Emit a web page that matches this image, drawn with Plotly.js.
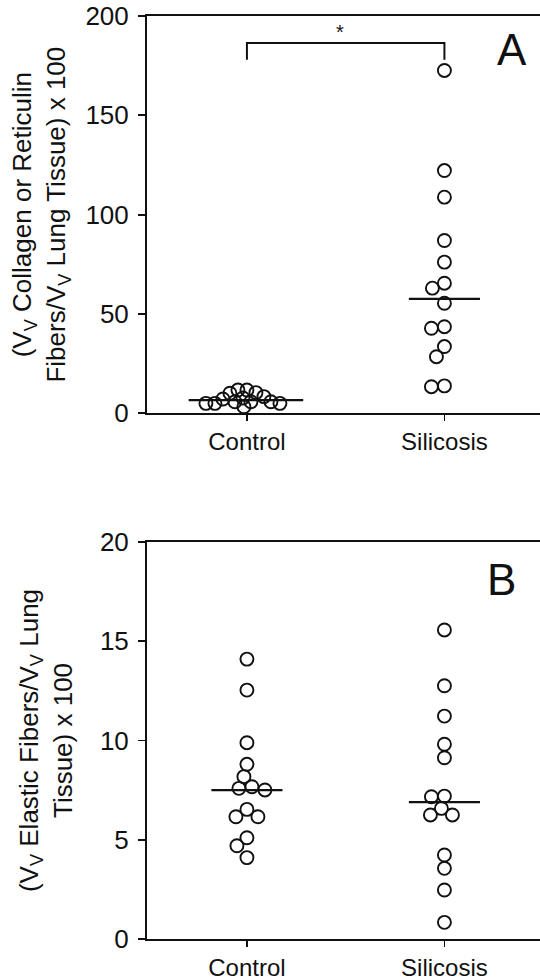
<!DOCTYPE html>
<html>
<head>
<meta charset="utf-8">
<script src="https://cdn.plot.ly/plotly-3.0.1.min.js"></script>
<style>html,body{margin:0;padding:0;background:#fff;}#chart{width:540px;height:980px;}</style>
</head>
<body>
<div id="chart"></div>
<script>
// ---- data ----
const categories = ["Control", "Silicosis"];

// Panel A: (Vv collagen or reticulin fibers / Vv lung tissue) x 100
const collagenControl   = [5.8, 10.1, 5.0, 10.4, 5.0, 11.7, 7.7, 3.3, 5.0, 11.7, 7.2, 5.8, 8.4, 5.8];
const collagenSilicosis = [172.6, 122.2, 108.8, 87.0, 76.1, 65.5, 63.0, 55.4, 43.6, 42.8, 33.6, 28.5, 13.8, 13.4];
const collagenMedians   = [6.6, 57.6];
const collagenTicks     = [0, 50, 100, 150, 200];

// Panel B: (Vv elastic fibers / Vv lung tissue) x 100
const elasticControl   = [14.1, 12.54, 9.89, 8.80, 8.18, 7.67, 7.51, 7.59, 6.53, 6.16, 6.16, 5.10, 4.70, 4.10];
const elasticSilicosis = [15.57, 12.76, 11.23, 9.81, 9.13, 7.20, 7.17, 6.58, 6.25, 6.25, 4.23, 3.56, 2.47, 0.84];
const elasticMedians   = [7.5, 6.9];
const elasticTicks     = [0, 5, 10, 15, 20];

// significance bracket in panel A (value units)
const bracketTop = 186.4;
const bracketFoot = 178;
const bracketLabel = "*";

// ---- geometry ----
const W = 540, H = 980;
const mL = 147;
const xRange = [-0.506, 1.484];
const domA = [1 - 413.3 / H, 1 - 16 / H];
const domB = [1 - 939 / H, 1 - 542 / H];
const rangeA = [0, 200], rangeB = [0, 20];
const pxPerX = (W - mL) / (xRange[1] - xRange[0]);

function swarm(values, center, pxPerY, dmin) {
  // simple beeswarm: place each point at the smallest horizontal offset that keeps circles apart
  const idx = values.map((v, i) => i).sort((a, b) => values[b] - values[a]);
  const placed = [];
  const xs = new Array(values.length);
  idx.forEach(i => {
    const py = values[i] * pxPerY;
    let off = 0;
    for (let k = 0; k < 400; k++) {
      const cand = (k % 2 === 0 ? 1 : -1) * Math.ceil(k / 2);
      const ok = placed.every(p => Math.hypot(p.x - cand, p.y - py) >= dmin);
      if (ok) { off = cand; break; }
    }
    placed.push({x: off, y: py});
    xs[i] = center + off / pxPerX;
  });
  return xs;
}

const pxA = (domA[1] - domA[0]) * H / (rangeA[1] - rangeA[0]);
const pxB = (domB[1] - domB[0]) * H / (rangeB[1] - rangeB[0]);

const markerStyle = {symbol: "circle-open", size: 13, color: "#111", line: {width: 1.9, color: "#111"}};

function pointsTrace(vals, center, pxY, xa, ya, dmin) {
  return {type: "scatter", mode: "markers", x: swarm(vals, center, pxY, dmin), y: vals,
          xaxis: xa, yaxis: ya, marker: markerStyle, hoverinfo: "y", showlegend: false};
}
function medianTrace(m, center, half, xa, ya) {
  return {type: "scatter", mode: "lines", x: [center - half, center + half], y: [m, m],
          xaxis: xa, yaxis: ya, line: {color: "#111", width: 2.2}, hoverinfo: "skip", showlegend: false};
}

const traces = [
  pointsTrace(collagenControl, 0, pxA, "x", "y", 8.5),
  pointsTrace(collagenSilicosis, 1, pxA, "x", "y", 12.5),
  medianTrace(collagenMedians[0], -0.005, 0.29, "x", "y"),
  medianTrace(collagenMedians[1], 1, 0.18, "x", "y"),
  {type: "scatter", mode: "lines", x: [0, 0, 1, 1], y: [bracketFoot, bracketTop, bracketTop, bracketFoot],
   xaxis: "x", yaxis: "y", line: {color: "#111", width: 2}, hoverinfo: "skip", showlegend: false},
  pointsTrace(elasticControl, 0, pxB, "x2", "y2", 12.5),
  pointsTrace(elasticSilicosis, 1, pxB, "x2", "y2", 12.5),
  medianTrace(elasticMedians[0], 0, 0.18, "x2", "y2"),
  medianTrace(elasticMedians[1], 1, 0.18, "x2", "y2")
];

const font = {family: "Liberation Sans, Arial, sans-serif", color: "#111"};
function xAxis(anchor) {
  return {domain: [0, 1], anchor: anchor, range: xRange, tickvals: [0, 1], ticktext: categories,
          ticks: "outside", ticklen: 6, tickwidth: 1.8, tickcolor: "#111",
          showline: true, mirror: true, linecolor: "#111", linewidth: 2,
          showgrid: false, zeroline: false, automargin: false,
          tickfont: Object.assign({size: 24}, font)};
}
function yAxis(anchor, dom, range, ticks, title, standoff) {
  return {domain: dom, anchor: anchor, range: range, tickvals: ticks,
          ticks: "outside", ticklen: 7, tickwidth: 1.8, tickcolor: "#111",
          ticklabelstandoff: 4,
          showline: true, mirror: false, linecolor: "#111", linewidth: 2,
          showgrid: false, zeroline: false, automargin: false,
          tickfont: Object.assign({size: 26}, font),
          title: {text: title, font: Object.assign({size: 26}, font), standoff: standoff}};
}

const layout = {
  width: W, height: H,
  margin: {l: mL, r: 0, t: 0, b: 0},
  paper_bgcolor: "#fff", plot_bgcolor: "#fff",
  font: font,
  xaxis: xAxis("y"),
  yaxis: yAxis("x", domA, rangeA, collagenTicks,
               "(V<sub>V</sub> Collagen or Reticulin<br>Fibers/V<sub>V</sub> Lung Tissue) x 100", 12),
  xaxis2: xAxis("y2"),
  yaxis2: yAxis("x2", domB, rangeB, elasticTicks,
                "(V<sub>V</sub> Elastic Fibers/V<sub>V</sub> Lung<br>Tissue) x 100", 20),
  annotations: [
    {x: 0.47, y: 192, xref: "x", yref: "y", text: bracketLabel, showarrow: false,
     font: Object.assign({size: 20}, font)},
    {x: 1.34, y: 183, xref: "x", yref: "y", text: "A", showarrow: false,
     font: Object.assign({size: 44}, font)},
    {x: 1.29, y: 18.1, xref: "x2", yref: "y2", text: "B", showarrow: false,
     font: Object.assign({size: 44}, font)}
  ],
  showlegend: false
};

Plotly.newPlot("chart", traces, layout, {displayModeBar: false, staticPlot: true});
</script>
</body>
</html>
